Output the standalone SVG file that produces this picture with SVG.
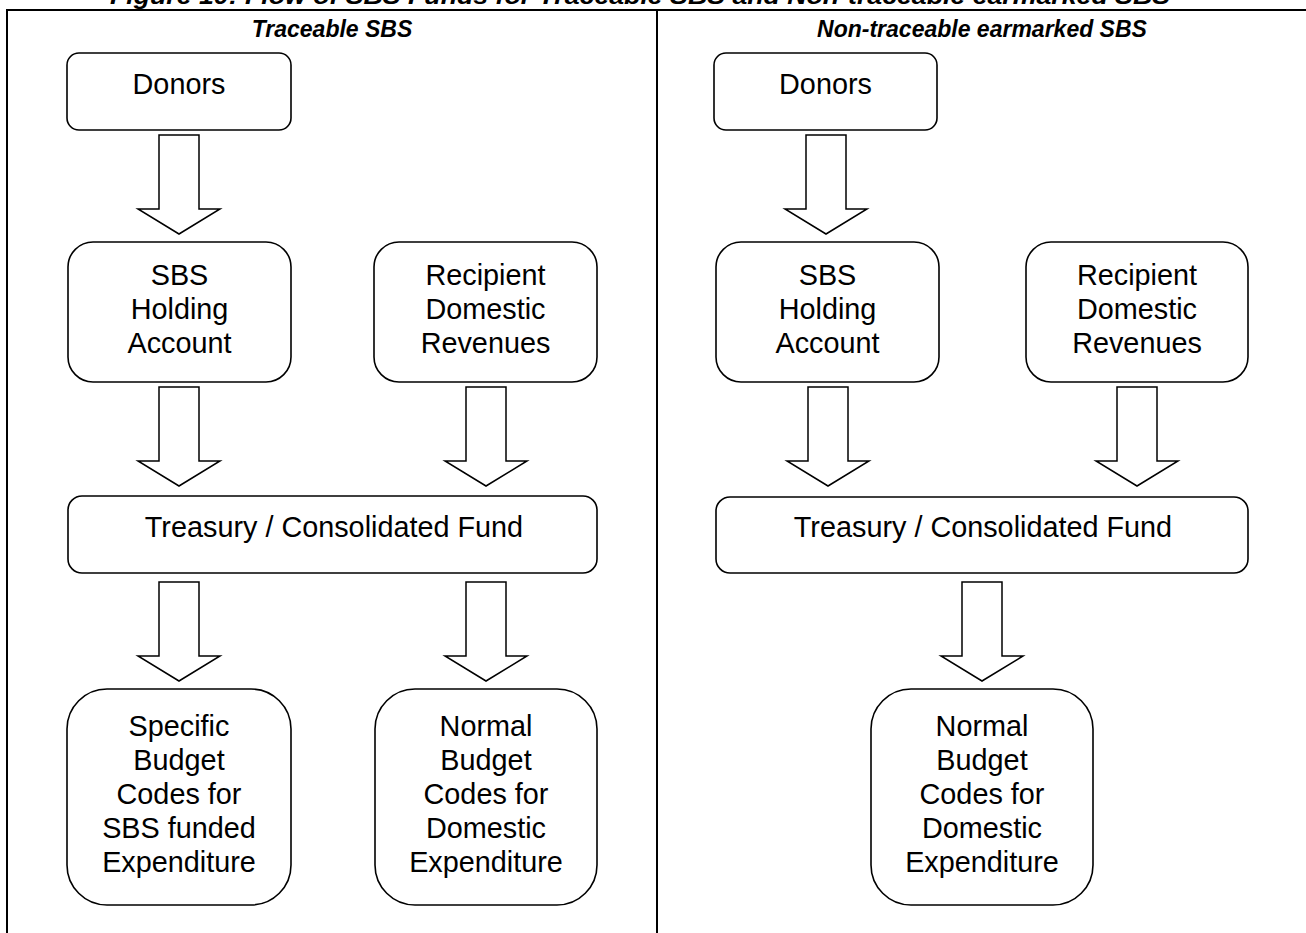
<svg xmlns="http://www.w3.org/2000/svg" xmlns:xlink="http://www.w3.org/1999/xlink" width="1306" height="933" viewBox="0 0 1306 933">
  <style>
    .frame { fill: none; stroke: #000; stroke-width: 2; }
    .box { fill: #fff; stroke: #000; stroke-width: 1.6; }
    .flow { fill: #fff; stroke: #000; stroke-width: 1.5; stroke-linejoin: miter; }
    .lbl { font-family: "Liberation Sans", Arial, sans-serif; font-size: 28.8px; fill: #000; text-anchor: middle; }
    .head { font-family: "Liberation Sans", Arial, sans-serif; font-size: 23px; font-weight: bold; font-style: italic; fill: #000; text-anchor: middle; }
  </style>
  <defs>
    <!-- block arrow, origin at top-centre of the shaft -->
    <path id="arr" d="M-20,0 H20 V74 H41 L0,99 L-41,74 H-20 Z"/>
  </defs>

  <rect width="1306" height="933" fill="#fff"/>

  <!-- figure caption (top edge cropped) -->
  <text class="head" x="640" y="4" textLength="1060" lengthAdjust="spacingAndGlyphs">Figure 10: Flow of SBS Funds for Traceable SBS and Non-traceable earmarked SBS</text>

  <!-- table frame -->
  <g id="frame">
    <path class="frame" d="M7,933 V10 H1310"/>
    <path class="frame" d="M657,10 V933"/>
  </g>

  <!-- column headings -->
  <text class="head" x="332" y="37">Traceable SBS</text>
  <text class="head" x="982" y="37">Non-traceable earmarked SBS</text>

  <!-- left column: traceable SBS -->
  <g id="l-donors">
    <rect class="box" x="67" y="53" width="224" height="77" rx="12"/>
    <text class="lbl" x="179" y="94">Donors</text>
  </g>
  <g id="l-holding">
    <rect class="box" x="68" y="242" width="223" height="140" rx="25"/>
    <text class="lbl" x="179.5" y="285">SBS</text>
    <text class="lbl" x="179.5" y="319">Holding</text>
    <text class="lbl" x="179.5" y="353">Account</text>
  </g>
  <g id="l-recipient">
    <rect class="box" x="374" y="242" width="223" height="140" rx="25"/>
    <text class="lbl" x="485.5" y="285">Recipient</text>
    <text class="lbl" x="485.5" y="319">Domestic</text>
    <text class="lbl" x="485.5" y="353">Revenues</text>
  </g>
  <g id="l-treasury">
    <rect class="box" x="68" y="496" width="529" height="77" rx="14"/>
    <text class="lbl" x="334" y="537">Treasury / Consolidated Fund</text>
  </g>
  <g id="l-specific">
    <rect class="box" x="67" y="689" width="224" height="216" rx="40"/>
    <text class="lbl" x="179" y="736">Specific</text>
    <text class="lbl" x="179" y="770">Budget</text>
    <text class="lbl" x="179" y="804">Codes for</text>
    <text class="lbl" x="179" y="838">SBS funded</text>
    <text class="lbl" x="179" y="872">Expenditure</text>
  </g>
  <g id="l-normal">
    <rect class="box" x="375" y="689" width="222" height="216" rx="40"/>
    <text class="lbl" x="486" y="736">Normal</text>
    <text class="lbl" x="486" y="770">Budget</text>
    <text class="lbl" x="486" y="804">Codes for</text>
    <text class="lbl" x="486" y="838">Domestic</text>
    <text class="lbl" x="486" y="872">Expenditure</text>
  </g>

  <!-- right column: non-traceable earmarked SBS -->
  <g id="r-donors">
    <rect class="box" x="714" y="53" width="223" height="77" rx="12"/>
    <text class="lbl" x="825.5" y="94">Donors</text>
  </g>
  <g id="r-holding">
    <rect class="box" x="716" y="242" width="223" height="140" rx="25"/>
    <text class="lbl" x="827.5" y="285">SBS</text>
    <text class="lbl" x="827.5" y="319">Holding</text>
    <text class="lbl" x="827.5" y="353">Account</text>
  </g>
  <g id="r-recipient">
    <rect class="box" x="1026" y="242" width="222" height="140" rx="25"/>
    <text class="lbl" x="1137" y="285">Recipient</text>
    <text class="lbl" x="1137" y="319">Domestic</text>
    <text class="lbl" x="1137" y="353">Revenues</text>
  </g>
  <g id="r-treasury">
    <rect class="box" x="716" y="497" width="532" height="76" rx="14"/>
    <text class="lbl" x="983" y="537">Treasury / Consolidated Fund</text>
  </g>
  <g id="r-normal">
    <rect class="box" x="871" y="689" width="222" height="216" rx="40"/>
    <text class="lbl" x="982" y="736">Normal</text>
    <text class="lbl" x="982" y="770">Budget</text>
    <text class="lbl" x="982" y="804">Codes for</text>
    <text class="lbl" x="982" y="838">Domestic</text>
    <text class="lbl" x="982" y="872">Expenditure</text>
  </g>

  <!-- flow arrows -->
  <g id="connectors" class="flow">
    <use xlink:href="#arr" x="179" y="135"/>
    <use xlink:href="#arr" x="179" y="387"/>
    <use xlink:href="#arr" x="486" y="387"/>
    <use xlink:href="#arr" x="179" y="582"/>
    <use xlink:href="#arr" x="486" y="582"/>
    <use xlink:href="#arr" x="826" y="135"/>
    <use xlink:href="#arr" x="828" y="387"/>
    <use xlink:href="#arr" x="1137" y="387"/>
    <use xlink:href="#arr" x="982" y="582"/>
  </g>
</svg>
